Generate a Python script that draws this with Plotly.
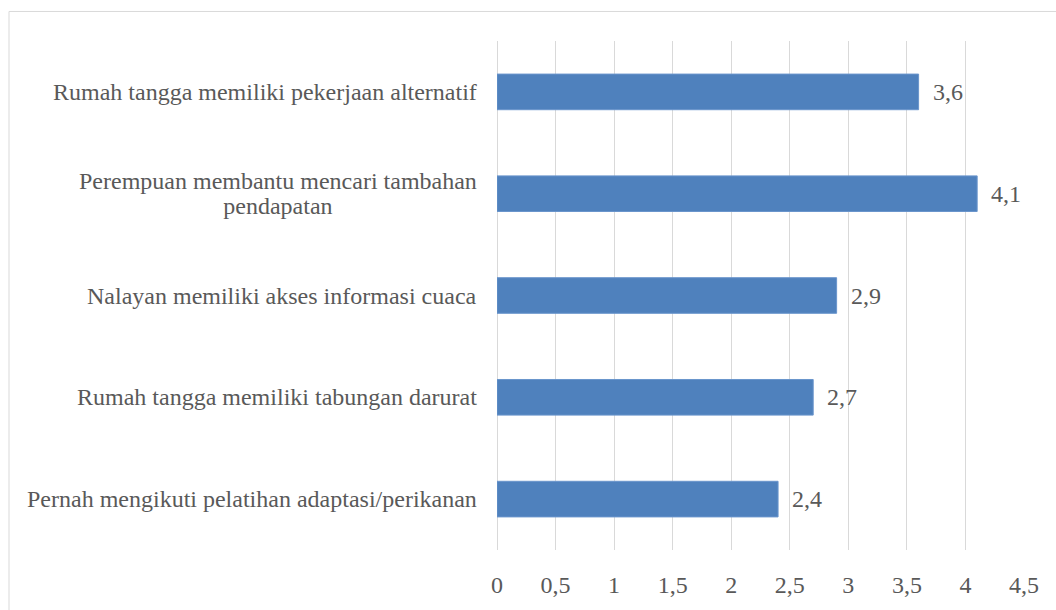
import plotly.graph_objects as go

categories = [
    "Rumah tangga memiliki pekerjaan alternatif",
    "Perempuan membantu mencari tambahan<br>pendapatan",
    "Nalayan memiliki akses informasi cuaca",
    "Rumah tangga memiliki tabungan darurat",
    "Pernah mengikuti pelatihan adaptasi/perikanan",
]
values = [3.6, 4.1, 2.9, 2.7, 2.4]
tick_vals = [0, 0.5, 1, 1.5, 2, 2.5, 3, 3.5, 4, 4.5]
tick_text = ["0", "0,5", "1", "1,5", "2", "2,5", "3", "3,5", "4", "4,5"]

FONT = "Liberation Serif"
TXT = "#595959"
GRID = "#D9D9D9"
FS = 24

fig = go.Figure()
fig.add_trace(go.Bar(
    y=categories, x=values, orientation="h",
    marker=dict(color="#4F81BD", line=dict(color="#6A95CC", width=1)),
    width=0.35, hoverinfo="skip",
))

annotations = []
for c, v in zip(categories, values):
    annotations.append(dict(
        x=v, y=c, xref="x", yref="y", text=f"{v:.1f}".replace(".", ","),
        showarrow=False, xanchor="left", xshift=12,
        font=dict(family=FONT, size=FS, color=TXT),
    ))
    lines = c.split("<br>")
    styled = "<br>".join(f'<span style="font-size:{FS}px">{ln}</span>' for ln in lines)
    annotations.append(dict(
        x=0, y=c, xref="x", yref="y", text=styled,
        showarrow=False, xanchor="right", align="center", xshift=-18,
        font=dict(family=FONT, size=19, color=TXT),
    ))

fig.update_layout(
    width=1056, height=610,
    margin=dict(l=497, r=32, t=41, b=52),
    paper_bgcolor="white", plot_bgcolor="white",
    showlegend=False,
    font=dict(family=FONT, size=FS, color=TXT),
    annotations=annotations,
    xaxis=dict(
        range=[0, 4.5], tickvals=tick_vals, ticktext=tick_text,
        showgrid=True, gridcolor=GRID, gridwidth=1,
        zeroline=True, zerolinecolor=GRID, zerolinewidth=1,
        showline=False, ticks="outside", ticklen=13, tickcolor="rgba(0,0,0,0)",
        tickfont=dict(family=FONT, size=FS, color=TXT), fixedrange=True,
    ),
    yaxis=dict(
        categoryorder="array", categoryarray=categories[::-1],
        showticklabels=False, showgrid=False, zeroline=False, showline=False,
        range=[-0.5, 4.5], fixedrange=True,
    ),
    shapes=[dict(
        type="rect", xref="paper", yref="paper",
        x0=(9 - 497) / 527, x1=1.2, y0=-0.3, y1=(558 - 11) / 517,
        line=dict(color=GRID, width=1), fillcolor="rgba(0,0,0,0)", layer="below",
    )],
)

fig.write_html(
    "out.html",
    config={"displayModeBar": False},
    post_script="document.body.style.margin='0';document.body.style.overflow='hidden';",
)
